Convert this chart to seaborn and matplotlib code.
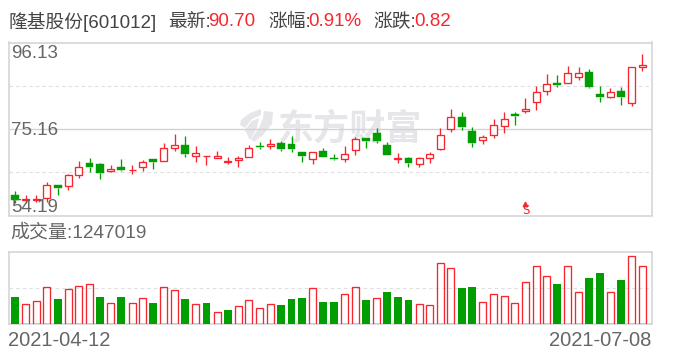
import matplotlib
matplotlib.use("Agg")
import matplotlib.pyplot as plt
import numpy as np
import pandas as pd
import seaborn as sns
from matplotlib.patches import Polygon
from matplotlib.transforms import Affine2D

sns.set_theme(style="white")
FONT = ['Liberation Sans', 'Noto Sans CJK SC', 'DejaVu Sans']
plt.rcParams['font.family'] = FONT

high = [60.09,59.28,59.20,62.27,61.54,64.29,67.36,68.09,66.88,66.39,67.85,66.39,67.76,67.85,71.72,73.91,73.42,71.00,68.73,69.87,
        68.33,68.57,71.16,71.89,72.69,72.21,73.42,69.54,69.70,70.51,69.06,71.00,73.10,72.94,75.36,71.97,69.30,68.33,68.33,69.54,
        75.36,79.97,79.24,75.60,73.66,77.54,79.24,79.24,82.63,85.54,88.45,88.21,90.39,90.15,89.66,85.54,85.06,85.30,90.07,93.30]
body_top = [59.12,58.15,58.31,61.70,61.54,63.89,65.83,66.88,66.63,65.58,65.91,65.34,67.28,67.85,70.67,71.16,71.24,69.46,68.65,68.73,
            67.36,68.25,70.67,70.92,71.64,71.72,71.48,69.54,69.70,69.78,68.01,69.22,72.85,72.94,74.15,71.24,68.09,68.09,68.01,69.22,
            73.82,77.95,78.03,74.63,73.10,76.01,77.70,78.75,79.97,84.25,86.19,86.27,88.85,88.85,88.93,83.60,84.01,84.33,90.07,90.70]
body_bottom = [57.91,57.91,57.99,58.55,60.90,61.46,63.89,65.99,64.45,64.86,65.18,65.26,65.83,67.20,67.52,70.67,69.14,68.73,68.57,68.25,
               67.28,67.76,68.49,70.75,71.08,70.27,70.27,68.57,67.93,68.33,67.85,67.93,69.95,72.21,72.21,68.81,67.93,66.88,66.71,68.17,
               70.35,75.28,75.60,71.72,72.53,73.74,75.93,78.27,79.48,81.74,84.41,85.78,86.35,87.80,85.30,82.87,82.95,82.87,81.50,90.23]
low = [57.34,57.34,57.42,57.58,59.12,60.33,63.32,64.69,63.08,64.69,64.94,64.29,64.94,65.42,67.44,69.87,68.33,67.20,66.47,68.17,
       66.71,65.99,68.41,70.27,70.27,69.78,69.54,67.12,66.63,68.33,67.60,67.12,68.81,70.51,71.72,68.81,66.88,65.91,65.91,66.88,
       70.11,74.39,74.87,70.75,71.48,72.94,74.15,76.09,79.00,79.72,83.36,85.30,86.27,86.99,85.06,81.66,82.63,80.93,80.69,89.18]
candle_up = [0,1,1,1,0,1,1,0,0,1,0,1,1,0,1,1,0,1,1,1,
             1,1,1,0,1,0,0,0,1,0,0,1,1,0,0,0,1,0,1,1,
             1,1,0,0,1,1,1,0,1,1,1,0,1,1,0,0,1,0,1,1]
volume = [576000,416000,503000,809000,532000,744000,831000,875000,576000,459000,576000,438000,547000,445000,809000,722000,532000,416000,445000,241000,
          292000,372000,525000,350000,416000,401000,532000,554000,766000,467000,467000,656000,788000,510000,547000,685000,576000,510000,416000,394000,
          1313000,1225000,773000,795000,481000,656000,591000,459000,897000,1247019,1050000,861000,1247019,700000,992000,1101000,700000,948000,1466000,1247019]
volume_up = [0,1,1,1,0,1,1,1,0,1,0,1,1,0,1,1,0,1,0,1,
             0,1,1,1,1,0,0,0,1,0,0,1,1,0,1,0,0,0,1,1,
             1,1,0,0,1,1,1,1,1,1,1,0,1,1,0,0,1,0,1,1]
price_max, price_mid, price_min = 96.13, 75.16, 54.19
vol_label = "1247019"
date_start, date_end = "2021-04-12", "2021-07-08"

RED, GREEN, GRID, BORDER = "#f7262e", "#009e00", "#e0e0e0", "#d2d2d6"
W, H = 688, 360
fig = plt.figure(figsize=(W/100, H/100), dpi=100, facecolor="white")

def axes_px(x0, y0, x1, y1):
    return fig.add_axes([x0/W, 1-y1/H, (x1-x0)/W, (y1-y0)/H])

ax = axes_px(8.5, 42.5, 651.5, 215.5)
axv = axes_px(8.5, 251.5, 651.5, 323.5)
idx = np.arange(len(high))
xlim = (-0.62, 59.86)
LW = 0.95
DASH = (3.3, 2.6)

# candlesticks
for i in idx:
    c = RED if candle_up[i] else GREEN
    ax.vlines(i, low[i], body_bottom[i], color=c, lw=LW, zorder=3)
    ax.vlines(i, body_top[i], high[i], color=c, lw=LW, zorder=3)
    h = body_top[i]-body_bottom[i]
    if candle_up[i]:
        ax.bar(i, h, bottom=body_bottom[i], width=0.66, facecolor="white", edgecolor=c, lw=LW, zorder=4)
    else:
        ax.bar(i, h, bottom=body_bottom[i], width=0.74, facecolor=c, edgecolor=c, lw=0.3, zorder=4)
ax.set_xlim(*xlim)
ax.set_ylim(price_min, price_max)
ax.axhline(price_mid, color=BORDER, lw=1.0, zorder=1)
for v in [(price_max+price_mid)/2, (price_mid+price_min)/2]:
    ax.axhline(v, color=GRID, lw=0.8, dashes=DASH, zorder=1)

# volume
df = pd.DataFrame({"i": idx, "volume": volume, "up": volume_up})
order = list(idx)
sns.barplot(data=df[df.up == 0], x="i", y="volume", order=order, color=GREEN, width=0.74,
            saturation=1, linewidth=0, ax=axv, zorder=3)
sns.barplot(data=df[df.up == 1], x="i", y="volume", order=order, color=RED, width=0.66,
            saturation=1, fill=False, linewidth=LW, ax=axv, zorder=3)
axv.set_xlim(*xlim)
axv.set_ylim(0, 1575000)
axv.axhline(787500, color=GRID, lw=0.8, dashes=DASH, zorder=1)
axv.set_xlabel(""); axv.set_ylabel("")

for a in (ax, axv):
    a.set_xticks([]); a.set_yticks([])
    for s in a.spines.values():
        s.set_color(BORDER); s.set_linewidth(1.1)
    a.set_axisbelow(True)

# text
GRAY, DARK = "#666666", "#444444"
def T(x, y, s, color=GRAY, size=13.5, ha="left", va="center", **kw):
    return fig.text(x/W, 1-y/H, s, color=color, fontsize=size, ha=ha, va=va, **kw)

T(8, 22, "隆基股份[601012]", DARK)
T(168, 22, "最新:", DARK)
T(208.5, 22, "90.70", RED)
T(268, 22, "涨幅:", DARK)
T(308.5, 22, "0.91%", RED)
T(373, 22, "涨跌:", DARK)
T(414, 22, "0.82", RED)
T(11, 53.5, f"{price_max:.2f}", GRAY)
T(11, 130.5, f"{price_mid:.2f}", GRAY)
T(11, 208, f"{price_min:.2f}", GRAY)
T(10, 233, f"成交量:{vol_label}", GRAY, size=13.7)
T(8, 341, date_start, GRAY, size=14.5)
T(651, 341, date_end, GRAY, size=14.5, ha="right")

# watermark, under the grid lines of the price panel
px = Affine2D().scale(1, -1).translate(0, H)
WM = "#e6e6ea"
ax.text(350, 130, "东方财富", color=WM, fontsize=26, ha="center", va="center",
        fontweight="bold", transform=px, zorder=0.5, clip_on=False)
for pts in ([(240,125),(241,120),(250,113),(261,109),(261,115),(252,119),(245,128)],
            [(245,130),(252,121),(259,118),(257,128),(250,140)],
            [(264,111),(273,112),(272,124),(263,135),(254,142),(251,139),(259,128),(263,118)]):
    ax.add_patch(Polygon(pts, closed=True, transform=px, fc=WM, ec="none", zorder=0.5, clip_on=False))

# S marker
T(525.5, 211, "S", RED, size=8.5, ha="center", family="DejaVu Sans", zorder=6)
ax.plot([48], [56.9], marker="^", ms=3.2, color=RED, clip_on=False, zorder=5, lw=0)

fig.savefig("out.png", dpi=100)
